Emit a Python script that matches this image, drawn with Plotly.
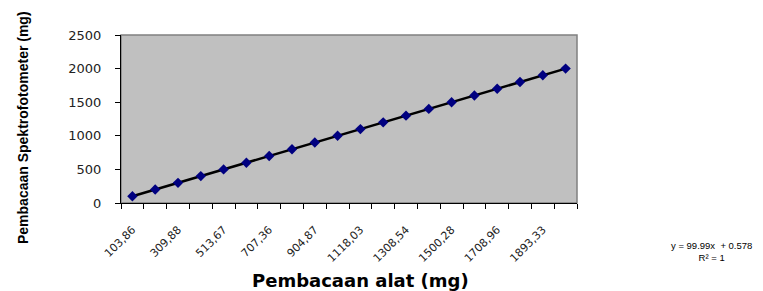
import plotly.graph_objects as go

# Data
alat_labels = ["103,86", "206,12", "309,88", "411,05", "513,67", "609,74", "707,36", "805,23",
               "904,87", "1010,42", "1118,03", "1212,67", "1308,54", "1403,91", "1500,28",
               "1605,10", "1708,96", "1801,45", "1893,33", "1998,02"]
spektro_values = [100, 200, 300, 400, 500, 600, 700, 800, 900, 1000,
                  1100, 1200, 1300, 1400, 1500, 1600, 1700, 1800, 1900, 2000]
shown_text = [lab if i % 2 == 0 else "" for i, lab in enumerate(alat_labels)]
y_ticks = [0, 500, 1000, 1500, 2000, 2500]

fig = go.Figure()
fig.add_trace(go.Scatter(
    x=alat_labels, y=spektro_values, mode="lines",
    line=dict(color="black", width=2.5), showlegend=False, hoverinfo="skip"))
fig.add_trace(go.Scatter(
    x=alat_labels, y=spektro_values, mode="markers",
    marker=dict(symbol="diamond", size=8, color="#000080"), showlegend=False))

fig.update_layout(
    width=755, height=283,
    margin=dict(l=113, r=186, t=27, b=88, autoexpand=False),
    paper_bgcolor="white", plot_bgcolor="#C0C0C0",
    font=dict(family="Liberation Sans, Arial, sans-serif", color="black"),
    xaxis=dict(type="category", tickmode="array", tickvals=alat_labels, ticktext=shown_text,
               tickson="boundaries", ticks="outside", ticklen=5, tickcolor="black",
               tickangle=-45, tickfont=dict(size=11, color="#222", family="DejaVu Sans"),
               automargin=False, ticklabelstandoff=15,
               showline=True, linecolor="black", linewidth=1, mirror=False,
               showgrid=False, zeroline=False, range=[-0.5, 19.5]),
    yaxis=dict(range=[0, 2500], tickvals=y_ticks, ticks="outside", ticklen=5, tickcolor="black",
               tickfont=dict(size=13, color="#222", family="DejaVu Sans"),
               showline=True, linecolor="black", linewidth=1,
               ticklabelstandoff=11,
               showgrid=False, zeroline=False, automargin=False),
    shapes=[dict(type="rect", xref="paper", yref="paper", x0=0, x1=1, y0=0, y1=1,
                 line=dict(color="#808080", width=1.5), fillcolor="rgba(0,0,0,0)", layer="below")],
    annotations=[
        dict(text="<b>Pembacaan Spektrofotometer (mg)</b>", xref="paper", yref="paper",
             x=-0.215, y=0.452, xanchor="center", yanchor="middle", textangle=-90,
             showarrow=False, font=dict(size=14)),
        dict(text="<b>Pembacaan alat (mg)</b>", xref="paper", yref="paper",
             x=0.526, y=-0.464, xanchor="center", yanchor="middle", showarrow=False,
             font=dict(size=18, family="DejaVu Sans")),
        dict(text="y = 99.99x  + 0.578<br>R² = 1", xref="paper", yref="paper",
             x=1.296, y=-0.286, xanchor="center", yanchor="middle", showarrow=False,
             font=dict(size=9.5), align="center"),
    ],
)

fig.write_html("out.html")
